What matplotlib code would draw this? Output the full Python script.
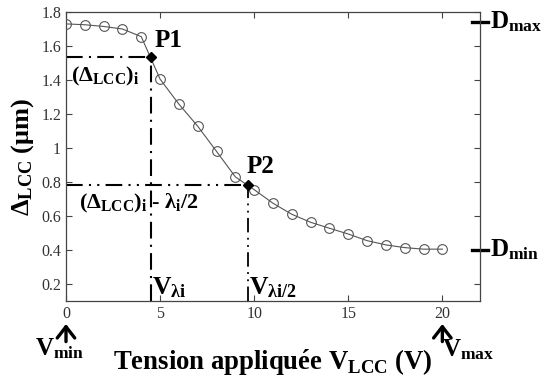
import matplotlib
matplotlib.use("Agg")
import matplotlib.pyplot as plt
import numpy as np

plt.rcParams['font.family'] = ['Liberation Serif', 'DejaVu Serif']
plt.rcParams['mathtext.fontset'] = 'custom'
plt.rcParams['mathtext.rm'] = 'Liberation Serif'
plt.rcParams['mathtext.it'] = 'Liberation Serif:italic'
plt.rcParams['mathtext.bf'] = 'Liberation Serif:bold'

voltage = [0, 1, 2, 3, 4, 5, 6, 7, 8, 9, 10, 11, 12, 13, 14, 15, 16, 17, 18, 19, 20]
delta = [1.73, 1.725, 1.715, 1.70, 1.655, 1.405, 1.258, 1.128, 0.98, 0.83, 0.755,
         0.675, 0.61, 0.563, 0.528, 0.494, 0.455, 0.43, 0.414, 0.405, 0.405]
p1 = (4.5, 1.537)
p2 = (9.65, 0.78)
d_max = 1.74
d_min = 0.40
x_ticks = [0, 5, 10, 15, 20]
y_ticks = [0.2, 0.4, 0.6, 0.8, 1.0, 1.2, 1.4, 1.6, 1.8]
y_ticklabels = ['0.2', '0.4', '0.6', '0.8', '1', '1.2', '1.4', '1.6', '1.8']

fig = plt.figure(figsize=(5.43, 3.81), dpi=100)
ax = fig.add_axes([66/543, 1-301/381, (480-66)/543, (301-12)/381])

ax.plot(voltage, delta, color='#555555', lw=0.8, marker='o', ms=7,
        mfc='none', mec='#555555', mew=0.8, zorder=3)
ax.plot([p1[0], p2[0]], [p1[1], p2[1]], ls='none', marker='D', ms=5,
        color='black', zorder=4)

# guide lines
ax.plot([0, p1[0]], [p1[1], p1[1]], color='black', lw=1.5, ls=(0, (8, 3, 1, 3)), zorder=2)
ax.plot([p1[0], p1[0]], [0.1, p1[1]], color='black', lw=1.5, ls=(0, (8, 3, 1, 3)), zorder=2)
ax.plot([0, p2[0]], [p2[1], p2[1]], color='black', lw=1.5, ls=(0, (8, 3, 1, 3, 1, 3)), zorder=2)
ax.plot([p2[0], p2[0]], [0.1, p2[1]], color='black', lw=1.3, ls=(0, (8, 3, 1, 3, 1, 3)), zorder=2)

ax.set_xlim(0, 22)
ax.set_ylim(0.1, 1.8)
ax.set_xticks(x_ticks)
ax.set_xticklabels([str(v) for v in x_ticks])
ax.set_yticks(y_ticks)
ax.set_yticklabels(y_ticklabels)
ax.tick_params(direction='in', top=True, right=True, labelsize=11.5,
               colors='#444444', labelcolor='#333333', length=4, width=0.8)
for s in ax.spines.values():
    s.set_color('#444444')
    s.set_linewidth(0.9)

# text annotations
ax.text(p1[0] + 0.2, p1[1] + 0.06, 'P1', fontsize=18, fontweight='bold')
ax.text(p2[0] - 0.05, p2[1] + 0.07, 'P2', fontsize=18, fontweight='bold')
ax.text(0.25, 1.42, r'$\mathbf{(\Delta_{LCC})_i}$', fontsize=16, va='center')
ax.text(0.7, 0.676, r'$\mathbf{(\Delta_{LCC})_i}$ - $\mathbf{\lambda_i/2}$', fontsize=16,
        va='center', fontweight='bold')
ax.text(p1[0] + 0.05, 0.105, r'$\mathbf{V_{\lambda i}}$', fontsize=18.5, va='bottom')
ax.text(p2[0] + 0.1, 0.105, r'$\mathbf{V_{\lambda i/2}}$', fontsize=18.5, va='bottom')

# right-side D markers
for val, lab in [(d_max, r'$\mathbf{D_{max}}$'), (d_min, r'$\mathbf{D_{min}}$')]:
    ax.plot([21.6, 22.4], [val, val], color='black', lw=2.4, clip_on=False)
    ax.text(22.55, val, lab, fontsize=18, va='center', ha='left')

ax.set_ylabel(r'$\mathbf{\Delta_{LCC}}$ $\mathbf{(\mu m)}$', fontsize=19, labelpad=4)
ax.xaxis.set_label_coords(0.48, -0.215)
ax.set_xlabel(r'$\mathbf{Tension\ appliqu\acute{e}e\ V_{LCC}\ (V)}$', fontsize=19.3, va='center')

# V_min / V_max arrows
arrow_kw = dict(arrowstyle='->,head_length=0.45,head_width=0.35', lw=2.4, color='black',
                mutation_scale=18)
ax.annotate('', xy=(0, -0.07), xytext=(0, -0.15), xycoords=('data', 'axes fraction'),
            textcoords=('data', 'axes fraction'), arrowprops=arrow_kw,
            annotation_clip=False)
ax.text(-1.65, -0.165, r'$\mathbf{V_{min}}$', fontsize=18, ha='left', va='center',
        transform=ax.get_xaxis_transform())
ax.annotate('', xy=(20, -0.07), xytext=(20, -0.15), xycoords=('data', 'axes fraction'),
            textcoords=('data', 'axes fraction'), arrowprops=arrow_kw,
            annotation_clip=False)
ax.text(20.0, -0.17, r'$\mathbf{V_{max}}$', fontsize=18, ha='left', va='center',
        transform=ax.get_xaxis_transform())

fig.savefig('out.png', dpi=100)
